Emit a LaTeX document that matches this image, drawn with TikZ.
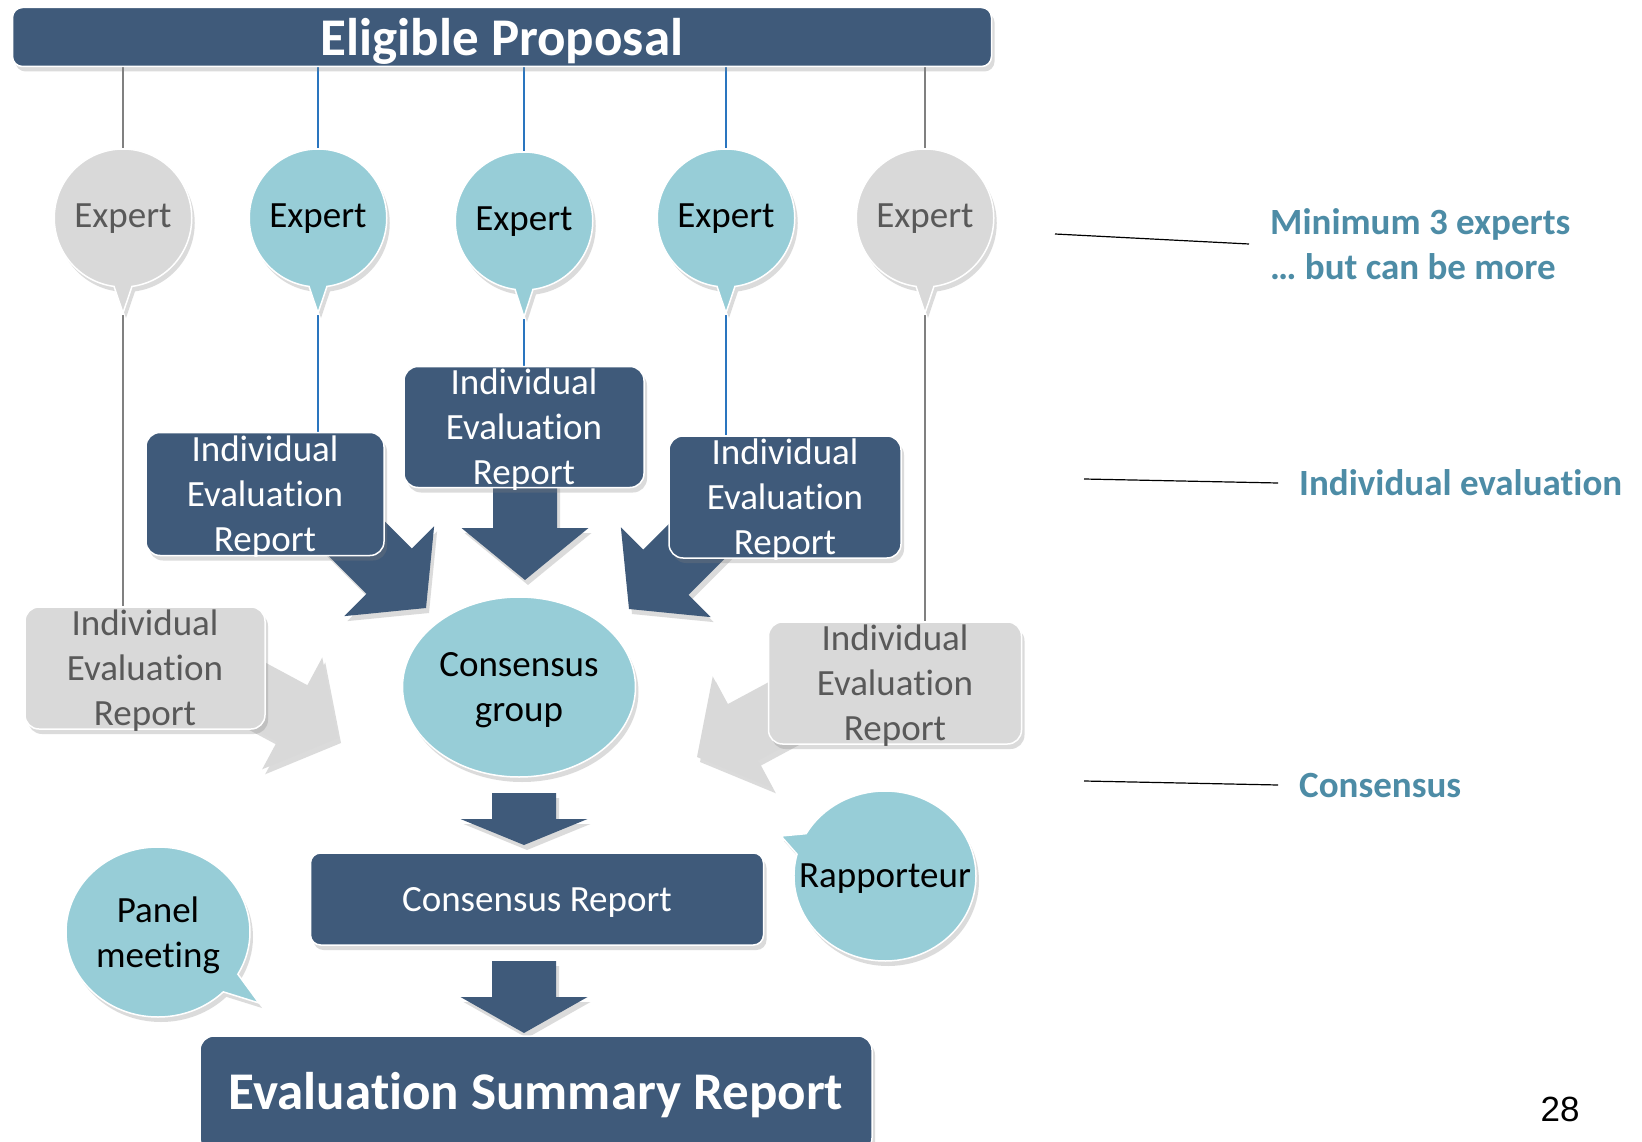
\documentclass[tikz,border=0pt]{standalone}
\usepackage{fontspec}
\setmainfont{Carlito}[Ligatures=CommonOff]
\newfontfamily\pagefont{Liberation Sans}
\usetikzlibrary{calc, shapes.geometric, shapes.callouts, shadows, backgrounds}
\definecolor{evdark}{HTML}{3F5A7A}
\definecolor{evteal}{HTML}{97CDD7}
\definecolor{evgray}{HTML}{D9D9D9}
\definecolor{evtext}{HTML}{595959}
\definecolor{evnote}{HTML}{4D8CA6}
\definecolor{evblue}{HTML}{2A75BF}
\definecolor{evline}{HTML}{808080}

% block arrow: style, tip, tail, head length
\newcommand{\blockarrow}[4]{%
  \coordinate (ah) at ($(#2)!#4!(#3)$);
  \fill[#1] (#2) -- ($(ah)!63.5pt!90:(#2)$) -- ($(ah)!32pt!90:(#2)$)
    -- ($(#3)!32pt!90:(#2)$) -- ($(#3)!32pt!-90:(#2)$)
    -- ($(ah)!32pt!-90:(#2)$) -- ($(ah)!63.5pt!-90:(#2)$) -- cycle;
}

\begin{document}
\begin{tikzpicture}[
  x=1pt, y=-1pt,
  every node/.style={font=\fontsize{37}{45}\selectfont},
  softshadow/.style={drop shadow={opacity=0.28, shadow xshift=3pt, shadow yshift=-5pt}},
  titlebox/.style={rectangle, rounded corners=10pt, draw=white, line width=1.5pt, fill=evdark, text=white, inner sep=0pt, text depth=0pt, font=\fontsize{53}{60}\selectfont\bfseries, softshadow},
  darkbox/.style={rectangle, rounded corners=14pt, draw=white, line width=1.5pt, fill=evdark, text=white, align=center, inner sep=0pt, text depth=0pt, softshadow},
  greybox/.style={darkbox, fill=evgray, text=evtext},
  tealballoon/.style={ellipse callout, draw=white, line width=1.5pt, fill=evteal, text=black, inner sep=0pt, text depth=0pt, align=center, softshadow},
  greyballoon/.style={tealballoon, fill=evgray, text=evtext},
  expert/.style={minimum width=135pt, minimum height=138pt, text depth=5pt},
  notetext/.style={font=\fontsize{37}{45}\selectfont\bfseries, text=evnote, align=left, anchor=west, inner xsep=21pt},
  blueline/.style={evblue, line width=1.6pt},
  greyline/.style={evline, line width=1.6pt},
  noteline/.style={black, line width=1.2pt},
  darkarrow/.style={fill=evdark, softshadow},
  greyarrow/.style={fill=evgray, softshadow},
]
\useasboundingbox (0,0) rectangle (1642,1142);

% Top: the proposal
\node[titlebox, minimum width=979pt, minimum height=59pt] (proposal) at (502,37) {Eligible Proposal};

% Experts
\node[greyballoon, expert, callout absolute pointer={(123,313)}] (e1) at (123,218) {Expert};
\node[tealballoon, expert, callout absolute pointer={(318,313)}] (e2) at (318,218) {Expert};
\node[tealballoon, expert, callout absolute pointer={(524,317)}] (e3) at (524,221) {Expert};
\node[tealballoon, expert, callout absolute pointer={(726,313)}] (e4) at (726,218) {Expert};
\node[greyballoon, expert, callout absolute pointer={(925,313)}] (e5) at (925,218) {Expert};

% Individual evaluation reports
\node[greybox, minimum width=240pt, minimum height=122pt] (r1) at (145,668) {Individual\\Evaluation\\Report};
\node[darkbox, minimum width=238pt, minimum height=123pt] (r2) at (265,494) {Individual\\Evaluation\\Report};
\node[darkbox, minimum width=240pt, minimum height=121pt] (r3) at (524,427) {Individual\\Evaluation\\Report};
\node[darkbox, minimum width=232pt, minimum height=122pt] (r4) at (785,497) {Individual\\Evaluation\\Report};
\node[greybox, minimum width=253pt, minimum height=122pt] (r5) at (895,683) {Individual\\Evaluation\\Report};

% Consensus
\node[ellipse, draw=white, line width=1.5pt, fill=evteal, inner sep=0pt, text depth=0pt, minimum width=233pt, minimum height=180pt, align=center, softshadow] (group) at (519,687) {Consensus\\group};
\node[darkbox, rounded corners=10pt, minimum width=453pt, minimum height=92pt] (consrep) at (537,899) {Consensus Report};
\node[tealballoon, minimum width=182pt, minimum height=170pt, callout absolute pointer={(781,836)}, label={[text depth=0pt]center:Rapporteur}] (rapp) at (885,876) {};
\node[tealballoon, minimum width=184pt, minimum height=170pt, callout absolute pointer={(259,1003)}] (panel) at (158,932) {Panel\\meeting};

% Bottom: the summary
\node[titlebox, rounded corners=14pt, text depth=6pt, minimum width=672pt, minimum height=116pt] (esr) at (536,1094) {Evaluation Summary Report};

% Notes on the right
\node[notetext] (note1) at (1249,244) {Minimum 3 experts\\… but can be more};
\node[notetext] (note2) at (1278,483) {Individual evaluation};
\node[notetext] (note3) at (1278,785) {Consensus};
\coordinate (n1) at (1055,234);
\coordinate (n2) at (1084,479);
\coordinate (n3) at (1084,781);

\node[font=\pagefont\fontsize{35}{40}\selectfont] (page) at (1560,1109) {28};

% Arrow ends
\coordinate (tip1) at (338,738);  \coordinate (tail1) at (232,681);
\coordinate (tip2) at (426,608);  \coordinate (tail2) at (340,522);
\coordinate (tip3) at (525,580);  \coordinate (tail3) at (525,470);
\coordinate (tip4) at (629,609);  \coordinate (tail4) at (715,523);
\coordinate (tip5) at (697,757);  \coordinate (tail5) at (803,700);
\coordinate (tip6) at (524,845);  \coordinate (tail6) at (524,793);
\coordinate (tip7) at (524,1033); \coordinate (tail7) at (524,961);

\begin{scope}[on background layer]
  \fill[white] (0,0) rectangle (1642,1142);

  % proposal to experts
  \draw[greyline] (e1 |- proposal.south) -- (e1.north);
  \draw[blueline] (e2 |- proposal.south) -- (e2.north);
  \draw[blueline] (e3 |- proposal.south) -- (e3.north);
  \draw[blueline] (e4 |- proposal.south) -- (e4.north);
  \draw[greyline] (e5 |- proposal.south) -- (e5.north);

  % experts to their reports
  \draw[greyline] (e1.pointer) -- (e1.pointer |- r1.north);
  \draw[blueline] (e2.pointer) -- (e2.pointer |- r2.north);
  \draw[blueline] (e3.pointer) -- (e3.pointer |- r3.north);
  \draw[blueline] (e4.pointer) -- (e4.pointer |- r4.north);
  \draw[greyline] (e5.pointer) -- (e5.pointer |- r5.north);

  % block arrows
  \blockarrow{greyarrow}{tip1}{tail1}{52pt}
  \blockarrow{darkarrow}{tip2}{tail2}{52pt}
  \blockarrow{darkarrow}{tip3}{tail3}{52pt}
  \blockarrow{darkarrow}{tip4}{tail4}{52pt}
  \blockarrow{greyarrow}{tip5}{tail5}{52pt}
  \blockarrow{darkarrow}{tip6}{tail6}{26pt}
  \blockarrow{darkarrow}{tip7}{tail7}{36pt}

  % note lines
  \draw[noteline] (n1) -- (note1.west);
  \draw[noteline] (n2) -- (note2.west);
  \draw[noteline] (n3) -- (note3.west);
\end{scope}

\end{tikzpicture}
\end{document}
